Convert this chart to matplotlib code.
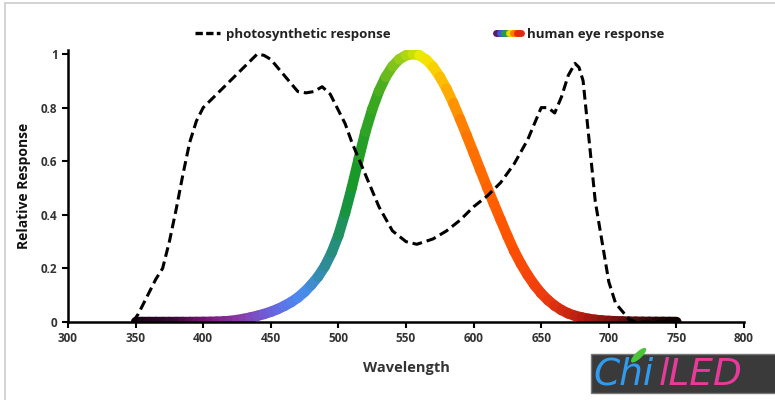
import numpy as np
import matplotlib
matplotlib.use('Agg')
import matplotlib.pyplot as plt
from matplotlib.collections import LineCollection
from matplotlib.colors import LinearSegmentedColormap
from matplotlib.legend_handler import HandlerBase
from matplotlib.lines import Line2D
from matplotlib.patches import Rectangle, Ellipse

plt.rcParams['font.family'] = ['Open Sans', 'DejaVu Sans']
plt.rcParams['font.weight'] = 'bold'

# photosynthetic response
photo_wl = [348, 352, 356, 360, 365, 370, 375, 380, 385, 390, 395, 400, 410, 420,
            430, 440, 445, 450, 460, 470, 476, 482, 488, 494, 500, 505, 510, 520,
            530, 540, 550, 558, 570, 580, 590, 600, 610, 620, 630, 640, 650, 655,
            660, 665, 670, 675, 678, 681, 685, 690, 695, 700, 705, 710, 715, 720, 750]
photo_resp = [0.0, 0.03, 0.07, 0.11, 0.16, 0.2, 0.3, 0.42, 0.55, 0.67, 0.75, 0.8, 0.85, 0.9,
              0.95, 1.0, 0.995, 0.98, 0.92, 0.86, 0.855, 0.86, 0.878, 0.85, 0.79, 0.74, 0.67, 0.55,
              0.43, 0.34, 0.3, 0.29, 0.31, 0.34, 0.38, 0.43, 0.47, 0.52, 0.59, 0.68, 0.8, 0.8,
              0.78, 0.84, 0.92, 0.965, 0.95, 0.9, 0.7, 0.45, 0.3, 0.15, 0.07, 0.04, 0.01, 0.0, 0.0]

# human eye response
eye_wl = list(range(350, 755, 5))
eye_resp = [0.0, 0.0, 0.0, 0.0, 0.0, 0.0, 0.0, 0.0001, 0.0001, 0.0002, 0.0004, 0.0006,
            0.0012, 0.0022, 0.004, 0.0073, 0.0116, 0.0168, 0.023, 0.0298, 0.038, 0.048,
            0.06, 0.0739, 0.091, 0.1126, 0.139, 0.1693, 0.208, 0.2586, 0.323, 0.4073,
            0.503, 0.6082, 0.71, 0.7932, 0.862, 0.9149, 0.954, 0.9803, 0.995, 1.0,
            0.995, 0.9786, 0.952, 0.9154, 0.87, 0.8163, 0.757, 0.6949, 0.631, 0.5668,
            0.503, 0.4412, 0.381, 0.321, 0.265, 0.217, 0.175, 0.1382, 0.107, 0.0816,
            0.061, 0.0446, 0.032, 0.0232, 0.017, 0.0119, 0.0082, 0.0057, 0.0041, 0.0029,
            0.0021, 0.0015, 0.001, 0.0007, 0.0005, 0.0004, 0.0003, 0.0002, 0.0001]

x_ticks = [300, 350, 400, 450, 500, 550, 600, 650, 700, 750, 800]
y_ticks = [0, 0.2, 0.4, 0.6, 0.8, 1]
y_tick_labels = ['0', '0.2', '0.4', '0.6', '0.8', '1']

# spectrum colours along the wavelength axis
spec_stops = [(350, '#150010'), (380, '#3a0a36'), (405, '#761878'), (430, '#8a3aa8'),
              (452, '#6a62dc'), (475, '#4a8cf0'), (495, '#2a8c8c'), (510, '#12962a'),
              (530, '#40aa20'), (545, '#8ac81a'), (565, '#f2ee00'), (580, '#ffb400'),
              (595, '#ff7800'), (625, '#ff5500'), (655, '#ee3a10'), (685, '#b01a10'),
              (720, '#501010'), (750, '#100000')]
lo, hi = spec_stops[0][0], spec_stops[-1][0]
spec_cmap = LinearSegmentedColormap.from_list(
    'spec', [((w - lo) / (hi - lo), c) for w, c in spec_stops])
handle_colors = ['#5a1a6a', '#3a5ae0', '#2a9a3a', '#e8d800', '#ff7800', '#e02a10']


class RainbowHandler(HandlerBase):
    def create_artists(self, legend, orig_handle, xdescent, ydescent, width, height, fontsize, trans):
        xs = np.linspace(0, width, len(handle_colors) + 1) - xdescent
        y = height / 2 - ydescent
        segs = [[(xs[i], y), (xs[i + 1], y)] for i in range(len(xs) - 1)]
        lc = LineCollection(segs, colors=handle_colors, linewidths=5, capstyle='round',
                            transform=trans)
        return [lc]


fig = plt.figure(figsize=(7.75, 4), dpi=100)
fig.patches.append(Rectangle((0.006, -0.01), 1.2, 1.002, transform=fig.transFigure,
                             fill=False, edgecolor='#cccccc', linewidth=1.2))
ax = fig.add_axes([0.0877, 0.195, 0.8723, 0.68])

pts = np.column_stack([eye_wl, eye_resp])
segs = np.stack([pts[:-1], pts[1:]], axis=1)
mids = (np.array(eye_wl[:-1]) + np.array(eye_wl[1:])) / 2
eye = LineCollection(segs, colors=spec_cmap((mids - lo) / (hi - lo)), linewidths=7.5,
                     capstyle='round', joinstyle='round', zorder=2)
ax.add_collection(eye)

ax.plot(photo_wl, photo_resp, color='black', linestyle=(0, (3.2, 1.6)), linewidth=2.2, zorder=3,
        label='photosynthetic response')

ax.set_xlim(300, 800)
ax.set_ylim(0, 1.015)
ax.set_xticks(x_ticks)
ax.set_yticks(y_ticks)
ax.set_yticklabels(y_tick_labels)
ax.spines['top'].set_visible(False)
ax.spines['right'].set_visible(False)
for s in ['left', 'bottom']:
    ax.spines[s].set_linewidth(1.8)
ax.tick_params(axis='both', direction='out', length=4, width=1.5, labelsize=8.5,
               labelcolor='#333333')
ax.set_xlabel('Wavelength', fontsize=10.5, fontweight='bold', color='#333333', labelpad=11)
ax.set_ylabel('Relative Response', fontsize=10, fontweight='bold', color='#111111', labelpad=7)

handles = [Line2D([], [], color='black', linestyle=(0, (2.2, 1.0)), linewidth=2.4),
           Line2D([], [])]
ax.legend(handles, ['photosynthetic response', 'human eye response'],
          handler_map={handles[1]: RainbowHandler()},
          ncol=2, frameon=False, loc='lower center', bbox_to_anchor=(0.535, 0.99),
          fontsize=9.5, handlelength=1.9, handletextpad=0.45, columnspacing=8,
          labelcolor='#222222')

# logo
fig.patches.append(Rectangle((0.762, 0.018), 0.24, 0.097, transform=fig.transFigure,
                             facecolor='#3a3a3a', edgecolor='#777777'))
fig.patches.append(Ellipse((0.824, 0.112), 0.011, 0.04, angle=-25, transform=fig.transFigure,
                           facecolor='#4cc43a', edgecolor='none'))
fig.text(0.766, 0.063, 'Chi', fontsize=27, style='italic',
         color='#2f9cf2', fontweight='normal', va='center', family='DejaVu Sans')
fig.text(0.85, 0.063, 'lLED', fontsize=27, style='italic',
         color='#e83a9a', fontweight='normal', va='center', family='DejaVu Sans')

fig.savefig('out.png', dpi=100)
